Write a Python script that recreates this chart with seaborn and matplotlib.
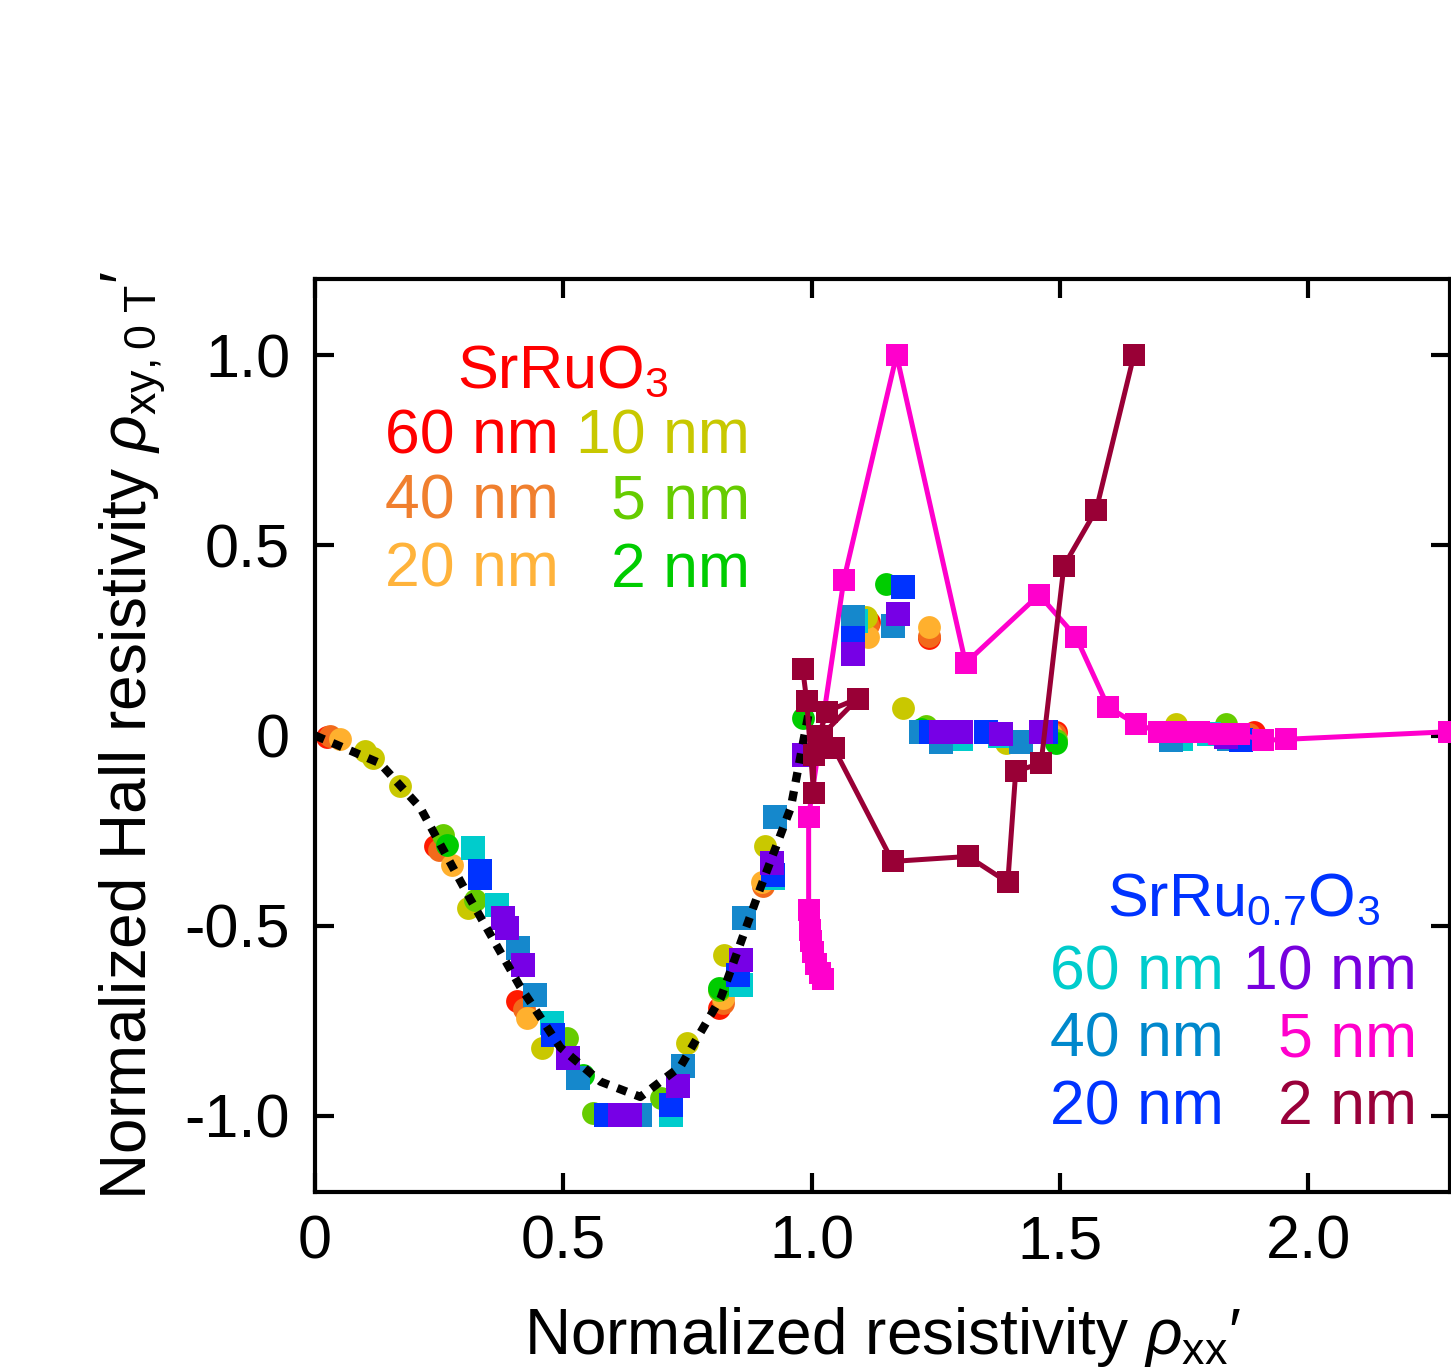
import pandas as pd
import matplotlib.pyplot as plt
import seaborn as sns

# SrRuO3 films (circles)
srruo3_60_x = [0.024, 0.242, 0.407, 0.813, 1.115, 1.236, 1.492, 1.891]
srruo3_60_y = [-0.003, -0.291, -0.698, -0.717, 0.299, 0.255, 0.010, 0.010]
srruo3_40_x = [0.030, 0.250, 0.420, 0.821, 0.903, 1.113, 1.236, 1.490, 1.880]
srruo3_40_y = [0.000, -0.300, -0.720, -0.703, -0.396, 0.290, 0.262, 0.005, 0.005]
srruo3_20_x = [0.050, 0.276, 0.427, 0.821, 0.900, 1.113, 1.236, 1.482]
srruo3_20_y = [-0.008, -0.341, -0.743, -0.690, -0.385, 0.260, 0.286, 0.005]
srruo3_10_x = [0.101, 0.117, 0.171, 0.308, 0.458, 0.750, 0.823, 0.907, 1.109, 1.185, 1.391, 1.734]
srruo3_10_y = [-0.042, -0.060, -0.134, -0.454, -0.822, -0.808, -0.577, -0.291, 0.312, 0.071, -0.021, 0.031]
srruo3_5_x = [0.258, 0.323, 0.508, 0.560, 0.696, 0.813, 1.230, 1.492, 1.835]
srruo3_5_y = [-0.262, -0.433, -0.795, -0.992, -0.953, -0.669, 0.024, -0.013, 0.031]
srruo3_2_x = [0.266, 0.540, 0.813, 0.982, 1.149, 1.220, 1.492]
srruo3_2_y = [-0.289, -0.892, -0.664, 0.045, 0.399, 0.018, -0.021]

# SrRu0.7O3 films (squares)
srru07_60_x = [0.319, 0.367, 0.478, 0.716, 0.857, 0.923, 1.090, 1.300, 1.380, 1.744, 1.800]
srru07_60_y = [-0.297, -0.446, -0.756, -0.997, -0.656, -0.375, 0.300, -0.008, 0.000, -0.008, 0.005]
srru07_40_x = [0.409, 0.444, 0.530, 0.655, 0.742, 0.863, 0.927, 1.083, 1.163, 1.220, 1.260, 1.421, 1.724, 1.840]
srru07_40_y = [-0.559, -0.682, -0.900, -0.997, -0.869, -0.480, -0.213, 0.312, 0.289, 0.010, -0.016, -0.016, -0.013, -0.010]
srru07_20_x = [0.333, 0.333, 0.480, 0.585, 0.716, 0.851, 0.923, 1.083, 1.185, 1.240, 1.351, 1.472, 1.865]
srru07_20_y = [-0.357, -0.375, -0.787, -0.997, -0.971, -0.630, -0.367, 0.255, 0.391, 0.010, 0.010, 0.010, -0.013]
srru07_10_x = [0.379, 0.387, 0.419, 0.510, 0.615, 0.635, 0.730, 0.857, 0.921, 0.984, 1.083, 1.173, 1.260, 1.300, 1.381, 1.462, 1.835]
srru07_10_y = [-0.480, -0.507, -0.604, -0.848, -0.997, -0.997, -0.921, -0.591, -0.336, -0.052, 0.215, 0.320, 0.010, 0.010, 0.005, 0.010, -0.003]
srru07_5_x = [1.022, 1.016, 1.008, 1.002, 0.998, 0.996, 0.994, 0.994, 1.065, 1.171, 1.310, 1.458, 1.532, 1.597,
              1.653, 1.700, 1.740, 1.780, 1.820, 1.860, 1.909, 1.955, 2.284]
srru07_5_y = [-0.640, -0.625, -0.600, -0.570, -0.540, -0.510, -0.460, -0.213, 0.410, 1.000, 0.190, 0.370, 0.260, 0.075,
              0.030, 0.010, 0.010, 0.010, 0.005, 0.005, -0.013, -0.010, 0.010]
srru07_2_x = [1.649, 1.573, 1.508, 1.462, 1.411, 1.395, 1.315, 1.163, 1.045, 1.020, 1.093, 1.030, 1.004, 1.004, 0.990, 0.982]
srru07_2_y = [1.000, 0.593, 0.446, -0.073, -0.094, -0.386, -0.318, -0.331, -0.034, 0.000, 0.097, 0.063, -0.052, -0.152, 0.092, 0.176]

# guide to the eye (black dashed)
guide_x = [0.0, 0.131, 0.212, 0.3125, 0.413, 0.494, 0.575, 0.655, 0.736, 0.817, 0.897, 0.958, 1.0]
guide_y = [0.0, -0.073, -0.19, -0.43, -0.66, -0.82, -0.91, -0.95, -0.87, -0.69, -0.40, -0.19, 0.10]

circle_sets = [
    (srruo3_60_x, srruo3_60_y, "#ff1a00"),
    (srruo3_40_x, srruo3_40_y, "#f26a1b"),
    (srruo3_20_x, srruo3_20_y, "#ffb02e"),
    (srruo3_10_x, srruo3_10_y, "#c9c800"),
    (srruo3_5_x, srruo3_5_y, "#66cc00"),
    (srruo3_2_x, srruo3_2_y, "#00cc00"),
]
square_sets = [
    (srru07_60_x, srru07_60_y, "#00cccc"),
    (srru07_40_x, srru07_40_y, "#1588cc"),
    (srru07_20_x, srru07_20_y, "#0033ff"),
    (srru07_10_x, srru07_10_y, "#7700e6"),
]

sns.set_style("ticks")
plt.rcParams['font.family'] = ['Liberation Sans', 'DejaVu Sans']
plt.rcParams['mathtext.fontset'] = 'custom'
plt.rcParams['mathtext.rm'] = 'Liberation Sans'
plt.rcParams['mathtext.it'] = 'Liberation Sans:italic'

fig = plt.figure(figsize=(14.51, 13.67), dpi=100)
ax = fig.add_axes([315 / 1451, 1 - 1192 / 1367, 1136 / 1451 - 0.0005, (1192 - 279) / 1367])

for xs, ys, c in circle_sets:
    sns.scatterplot(x=xs, y=ys, color=c, marker="o", s=270, linewidth=0, ax=ax, zorder=2)
for xs, ys, c in square_sets:
    sns.scatterplot(x=xs, y=ys, color=c, marker="s", s=300, linewidth=0, ax=ax, zorder=2)

sns.lineplot(x=guide_x, y=guide_y, sort=False, estimator=None, color="black", lw=6,
             dashes=False, ax=ax, zorder=3).lines[-1].set_dashes((1.2, 1.1))

df5 = pd.DataFrame({"x": srru07_5_x, "y": srru07_5_y})
sns.lineplot(data=df5, x="x", y="y", sort=False, estimator=None, color="#ff00cc", lw=3.6,
             marker="s", markersize=16, markeredgewidth=0, ax=ax, zorder=4)
df2 = pd.DataFrame({"x": srru07_2_x, "y": srru07_2_y})
sns.lineplot(data=df2, x="x", y="y", sort=False, estimator=None, color="#990036", lw=3.6,
             marker="s", markersize=16, markeredgewidth=0, ax=ax, zorder=5)

ax.set_xlim(0, 2.286)
ax.set_ylim(-1.2, 1.2)
ax.set_xticks([0, 0.5, 1.0, 1.5, 2.0])
ax.set_xticklabels(["0", "0.5", "1.0", "1.5", "2.0"])
ax.set_yticks([-1.0, -0.5, 0, 0.5, 1.0])
ax.set_yticklabels(["-1.0", "-0.5", "0", "0.5", "1.0"])
ax.tick_params(direction="in", length=14, width=3, top=True, right=True, labelsize=44,
               color="black", labelcolor="black")
ax.tick_params(axis="x", pad=16)
ax.tick_params(axis="y", pad=18)
for sp in ax.spines.values():
    sp.set_linewidth(3)
    sp.set_color("black")

ax.set_xlabel("Normalized resistivity $\\rho_{\\rm xx}$\u2032", fontsize=46, labelpad=24, color="black")
ax.set_ylabel("Normalized Hall resistivity $\\rho_{\\rm xy,0\\ T}$\u2032", fontsize=46, labelpad=12,
              color="black")

# in-plot legends
def ftxt(px, py, s, c, ha="left", fs=45):
    fig.text(px / 1451, 1 - py / 1367, s, color=c, fontsize=fs, ha=ha, va="center")

ftxt(563, 372, r"SrRuO$_3$", "#ff0000", ha="center", fs=44)
ftxt(385, 437, "60 nm", "#ff0000")
ftxt(385, 502, "40 nm", "#f07f2e")
ftxt(385, 570, "20 nm", "#ffb33b")
ftxt(750, 437, "10 nm", "#c8c800", ha="right")
ftxt(750, 502, "5 nm", "#66cc00", ha="right")
ftxt(750, 570, "2 nm", "#00cc00", ha="right")

ftxt(1243, 900, r"SrRu$_{0.7}$O$_3$", "#0033ff", ha="center", fs=44)
ftxt(1050, 973, "60 nm", "#00cccc")
ftxt(1050, 1040, "40 nm", "#0088cc")
ftxt(1050, 1108, "20 nm", "#0033ff")
ftxt(1417, 973, "10 nm", "#7700dd", ha="right")
ftxt(1417, 1040, "5 nm", "#ff00cc", ha="right")
ftxt(1417, 1108, "2 nm", "#99003a", ha="right")

fig.savefig("out.png", dpi=100)
